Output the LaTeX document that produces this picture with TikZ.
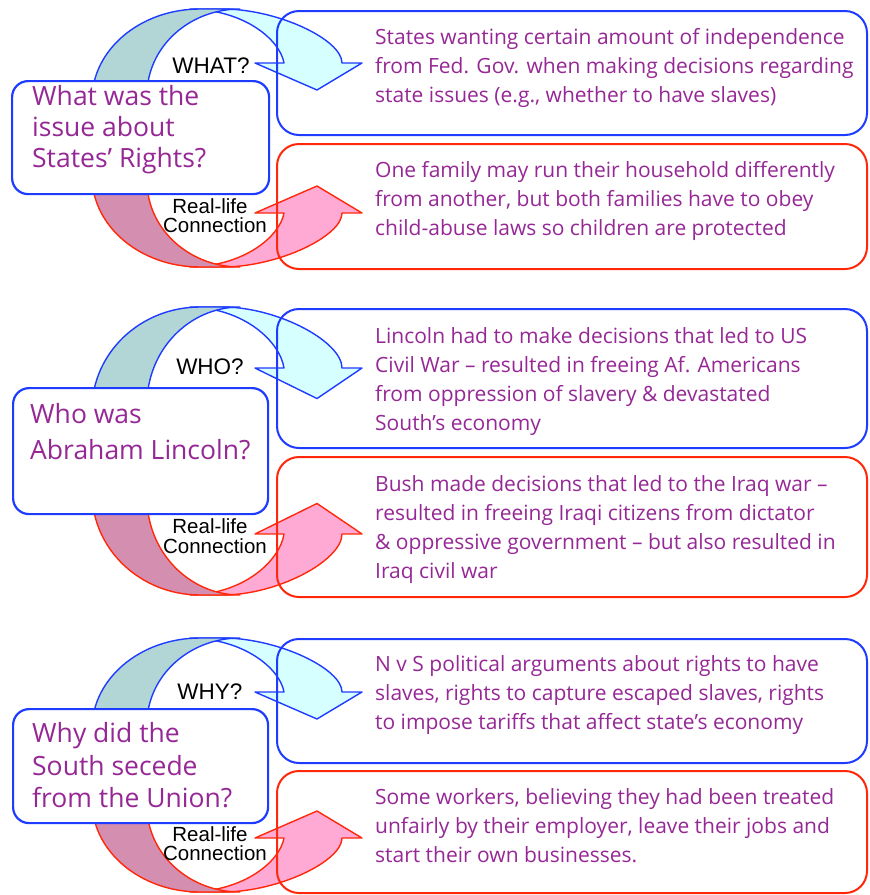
\documentclass[tikz,border=0pt]{standalone}
\usepackage{fontspec}
\setmainfont{Open Sans}
\newfontfamily\labelfont{Liberation Sans}
\definecolor{lineblue}{RGB}{30,60,255}
\definecolor{linered}{RGB}{255,40,10}
\definecolor{cyanfill}{RGB}{214,255,255}
\definecolor{tealfill}{RGB}{178,214,214}
\definecolor{pinkfill}{RGB}{255,170,212}
\definecolor{mauvefill}{RGB}{212,142,176}
\definecolor{txtpurple}{RGB}{150,40,150}
\newcommand{\arrowpair}[3]{%
\begin{scope}[shift={(0,#1)},yscale=#3]
\filldraw[arrowblue, fill=cyanfill] (190,0) -- (225,0) .. controls (280,1) and (342,31) .. (342,54) -- (362,54) -- (317,81) -- (255,54) -- (284,54) .. controls (280,31) and (245,1) .. (190,0) -- cycle;
\filldraw[arrowblue, fill=tealfill] (92,121) -- (92,91) .. controls (92,41) and (140,0) .. (200,0) -- (240,0) .. controls (188.7,0) and (147,38.5) .. (147,86) -- (147,121) -- cycle;
\end{scope}
\begin{scope}[shift={(0,#2)},yscale=-#3]
\filldraw[arrowred, fill=pinkfill] (190,0) -- (225,0) .. controls (280,1) and (342,31) .. (342,54) -- (362,54) -- (317,81) -- (255,54) -- (284,54) .. controls (280,31) and (245,1) .. (190,0) -- cycle;
\filldraw[arrowred, fill=mauvefill] (92,121) -- (92,91) .. controls (92,41) and (140,0) .. (200,0) -- (240,0) .. controls (188.7,0) and (147,38.5) .. (147,86) -- (147,121) -- cycle;
\end{scope}}
\begin{document}
\begin{tikzpicture}[x=1pt,y=-1pt,
  arrowblue/.style={draw=lineblue, line width=1.4pt, line join=round},
  arrowred/.style={draw=linered, line width=1.4pt, line join=round},
  qbox/.style={draw=lineblue, line width=2.2pt, rounded corners=16pt, fill=white, anchor=north west, inner sep=0pt},
  ansbox/.style={line width=2pt, rounded corners=22pt, minimum width=590pt, anchor=north west, inner sep=0pt},
  anstext/.style={anchor=base west, inner sep=0pt, text=txtpurple, font=\fontsize{21}{25}\selectfont},
  qtext/.style={anchor=base west, inner sep=0pt, text=txtpurple, font=\fontsize{26.5}{31}\selectfont},
  lbl/.style={anchor=base, inner sep=0pt, font=\labelfont\fontsize{22.5}{24}\selectfont},
  lbls/.style={anchor=base, inner sep=0pt, font=\labelfont\fontsize{20.5}{22}\selectfont}]
\useasboundingbox (0,0) rectangle (870,895);
\fill[white] (0,0) rectangle (870,895);
% arrows
\arrowpair{9}{267}{1}
\arrowpair{307}{595}{1.13}
\arrowpair{638}{892}{1}
% answer boxes
\node[ansbox, draw=lineblue, minimum height=124pt] (a1) at (276,10) {};
\node[ansbox, draw=linered, minimum height=125pt] (r1) at (276,143) {};
\node[ansbox, draw=lineblue, minimum height=139pt] (a2) at (276,308) {};
\node[ansbox, draw=linered, minimum height=140pt] (r2) at (276,456) {};
\node[ansbox, draw=lineblue, minimum height=124pt] (a3) at (276,638) {};
\node[ansbox, draw=linered, minimum height=122pt] (r3) at (276,770) {};
% question boxes
\node[qbox, minimum width=257pt, minimum height=113pt] (q1) at (11,80) {};
\node[qbox, minimum width=255pt, minimum height=126pt] (q2) at (12,387) {};
\node[qbox, minimum width=255pt, minimum height=114pt] (q3) at (12,708) {};
% question texts
\node[qtext] (q1a) at (32,105) {What was the};
\node[qtext] (q1b) at (32,136) {issue about};
\node[qtext] (q1c) at (32,167) {States’ Rights?};
\node[qtext] (q2a) at (30,423) {Who was};
\node[qtext] (q2b) at (30,459) {Abraham Lincoln?};
\node[qtext] (q3a) at (32,742) {Why did the};
\node[qtext] (q3b) at (32,775) {South secede};
\node[qtext] (q3c) at (32,807) {from the Union?};
% labels
\node[lbl] (w1) at (211,73) {WHAT?};
\node[lbls] (c1a) at (210,213) {Real-life};
\node[lbls] (c1b) at (215,232) {Connection};
\node[lbl] (w2) at (210,374) {WHO?};
\node[lbls] (c2a) at (210,533) {Real-life};
\node[lbls] (c2b) at (215,553) {Connection};
\node[lbl] (w3) at (210,699) {WHY?};
\node[lbls] (c3a) at (210,841) {Real-life};
\node[lbls] (c3b) at (215,860) {Connection};
% answer texts block 1
\node[anstext] (t1a) at (375,44) {States wanting certain amount of independence};
\node[anstext] (t1b) at (375,73.3) {from Fed. Gov. when making decisions regarding};
\node[anstext] (t1c) at (375,102.6) {state issues (e.g., whether to have slaves)};
\node[anstext] (s1a) at (375,177) {One family may run their household differently};
\node[anstext] (s1b) at (375,206.3) {from another, but both families have to obey};
\node[anstext] (s1c) at (375,235.6) {child-abuse laws so children are protected};
% block 2
\node[anstext] (t2a) at (375,343) {Lincoln had to make decisions that led to US};
\node[anstext] (t2b) at (375,372.3) {Civil War – resulted in freeing Af. Americans};
\node[anstext] (t2c) at (375,401.6) {from oppression of slavery \& devastated};
\node[anstext] (t2d) at (375,430.9) {South’s economy};
\node[anstext] (s2a) at (375,491) {Bush made decisions that led to the Iraq war –};
\node[anstext] (s2b) at (375,520.3) {resulted in freeing Iraqi citizens from dictator};
\node[anstext] (s2c) at (375,549.6) {\& oppressive government – but also resulted in};
\node[anstext] (s2d) at (375,578.9) {Iraq civil war};
% block 3
\node[anstext] (t3a) at (375,671) {N v S political arguments about rights to have};
\node[anstext] (t3b) at (375,700.3) {slaves, rights to capture escaped slaves, rights};
\node[anstext] (t3c) at (375,729.6) {to impose tariffs that affect state’s economy};
\node[anstext] (s3a) at (375,804) {Some workers, believing they had been treated};
\node[anstext] (s3b) at (375,833.3) {unfairly by their employer, leave their jobs and};
\node[anstext] (s3c) at (375,862.6) {start their own businesses.};
\end{tikzpicture}
\end{document}
